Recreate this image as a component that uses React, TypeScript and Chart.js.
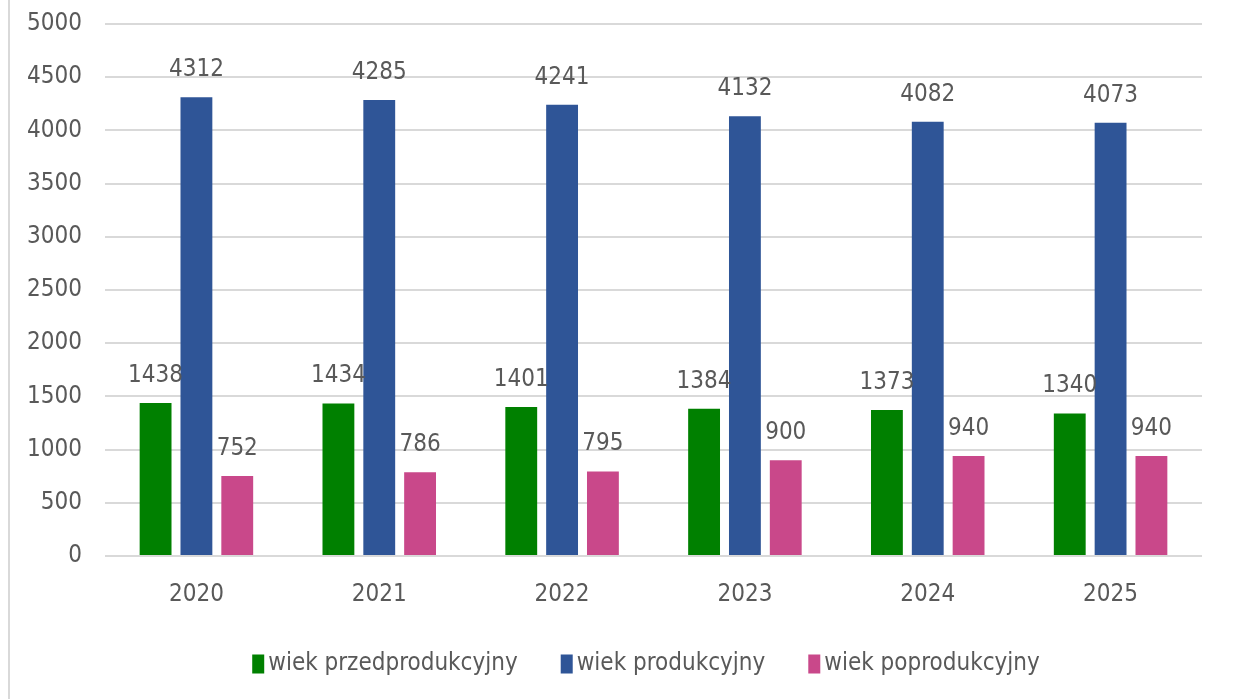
import React, { useEffect, useRef } from "react";
import { Chart, registerables } from "chart.js";

Chart.register(...registerables);

const categories = ["2020", "2021", "2022", "2023", "2024", "2025"];
const seriesNames = ["wiek przedprodukcyjny", "wiek produkcyjny", "wiek poprodukcyjny"];
const przedprodukcyjny = [1438, 1434, 1401, 1384, 1373, 1340];
const produkcyjny = [4312, 4285, 4241, 4132, 4082, 4073];
const poprodukcyjny = [752, 786, 795, 900, 940, 940];
const seriesColors = ["#008000", "#2f5597", "#c9488a"];

const FONT = "'Liberation Sans Narrow', 'DejaVu Sans Condensed', sans-serif";
const TEXT = "#595959";

const dataLabels = {
  id: "dataLabels",
  afterLayout(chart: any) {
    const lg = chart.legend;
    if (lg) {
      lg.left += 45;
      lg.right += 45;
      lg.top -= 11;
      lg.bottom -= 11;
    }
  },
  afterDatasetsDraw(chart: any) {
    const ctx = chart.ctx;
    ctx.save();
    ctx.font = `24px ${FONT}`;
    ctx.fillStyle = TEXT;
    ctx.textAlign = "center";
    ctx.textBaseline = "alphabetic";
    chart.data.datasets.forEach((ds: any, di: number) => {
      const meta = chart.getDatasetMeta(di);
      meta.data.forEach((el: any, i: number) => {
        ctx.fillText(String(ds.data[i]), el.x, el.y - 21);
      });
    });
    ctx.restore();
  },
  afterDraw(chart: any) {
    const lg = chart.legend;
    if (!lg || !lg.legendHitBoxes) return;
    const ctx = chart.ctx;
    ctx.save();
    lg.legendHitBoxes.forEach((hb: any, i: number) => {
      const item = lg.legendItems[i];
      ctx.fillStyle = item ? item.fillStyle : seriesColors[i];
      ctx.fillRect(hb.left - 10, hb.top + hb.height / 2 - 9.5, 12, 19);
    });
    ctx.restore();
  },
};

export default function App() {
  const ref = useRef<HTMLCanvasElement | null>(null);
  useEffect(() => {
    if (!ref.current) return;
    const values = [przedprodukcyjny, produkcyjny, poprodukcyjny];
    const chart = new Chart(ref.current, {
      type: "bar",
      data: {
        labels: categories,
        datasets: seriesNames.map((name, i) => ({
          label: name,
          data: values[i],
          backgroundColor: seriesColors[i],
          borderWidth: 0,
          categoryPercentage: 0.67,
          barPercentage: 0.78,
        })),
      },
      options: {
        animation: false,
        responsive: true,
        maintainAspectRatio: false,
        layout: { padding: { top: 24, right: 57, bottom: 2, left: 0 } },
        plugins: {
          tooltip: { enabled: false },
          legend: {
            position: "bottom",
            labels: {
              font: { family: FONT, size: 24 },
              color: TEXT,
              boxWidth: -6,
              boxHeight: 19,
              padding: 53,
            },
          },
        },
        scales: {
          x: {
            grid: { display: false, drawTicks: false },
            border: { display: false },
            ticks: { color: TEXT, font: { family: FONT, size: 24 }, padding: 24 },
            afterFit(scale: any) {
              scale.height = 54;
            },
          },
          y: {
            min: 0,
            max: 5000,
            ticks: {
              stepSize: 500,
              color: TEXT,
              font: { family: FONT, size: 24 },
              padding: 23,
              callback: (v: any) => String(v),
            },
            grid: { color: "#d9d9d9", lineWidth: 2, drawTicks: false },
            border: { display: false },
            afterFit(scale: any) {
              scale.width = 95;
              scale.paddingTop = 0;
              scale.paddingBottom = 0;
            },
          },
        },
      },
      plugins: [dataLabels],
    });
    return () => chart.destroy();
  }, []);
  return (
    <div
      style={{
        position: "fixed",
        left: 8,
        top: 0,
        width: 1251,
        height: 699,
        borderLeft: "2px solid #d9d9d9",
        background: "#fff",
        boxSizing: "border-box",
      }}
    >
      <canvas ref={ref} />
    </div>
  );
}
